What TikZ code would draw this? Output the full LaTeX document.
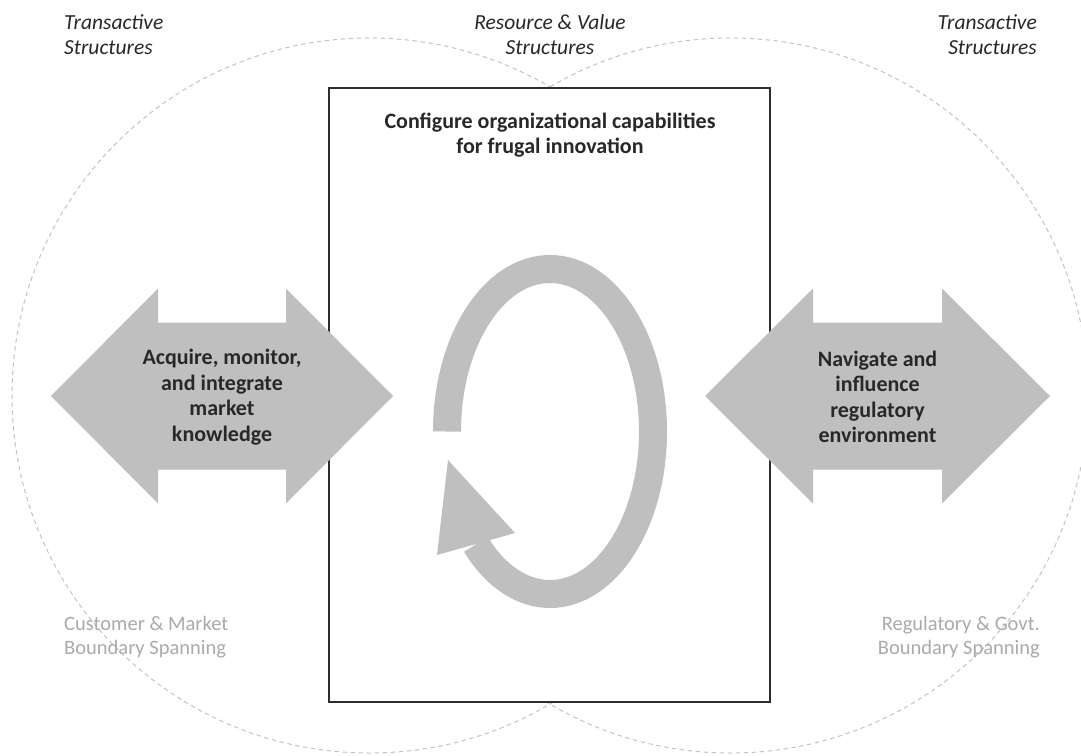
\documentclass[tikz,border=0pt]{standalone}
\usepackage{fontspec}
\setmainfont{Carlito}
\definecolor{arrowgray}{RGB}{191,191,191}
\definecolor{dashgray}{RGB}{196,196,196}
\definecolor{labelgray}{RGB}{170,170,170}
\definecolor{textdark}{RGB}{40,40,40}
\definecolor{boxline}{RGB}{45,45,45}
\tikzset{
  zone/.style={draw=dashgray, line width=1pt, dash pattern=on 4.5pt off 3.5pt},
  framebox/.style={draw=boxline, line width=1.4pt, fill=white, minimum width=441, minimum height=614, inner sep=0pt},
  bigarrow/.style={fill=arrowgray},
  toplabel/.style={font=\fontsize{21.5}{25.5}\selectfont\itshape, text=textdark, inner sep=0pt},
  botlabel/.style={font=\fontsize{20.5}{24}\selectfont, text=labelgray, inner sep=0pt},
  boldtext/.style={font=\fontsize{22}{25.5}\selectfont\bfseries, text=textdark, align=center, inner sep=0pt},
  cycleline/.style={draw=arrowgray, line width=28pt},
}
\begin{document}
\begin{tikzpicture}[x=1pt,y=-1pt]
\useasboundingbox (0,0) rectangle (1081,755);
\fill[white] (0,0) rectangle (1081,755);
\begin{scope}
\clip (0,0) rectangle (1081,755);
\draw[zone] (369.5,395.5) circle[radius=357.5];
\draw[zone] (730.5,395.5) circle[radius=357.5];
\end{scope}
% central box
\node[framebox] (box) at (549.5,395) {};
\node[boldtext] (title) at (550,135) {Configure organizational capabilities\\for frugal innovation};
% cycle arrow
\draw[cycleline] (447,431.5) arc[start angle=180, end angle=496, x radius=103, y radius=162.5];
\fill[arrowgray] (448,460) -- (437,555) -- (515,533) -- cycle;
% left double arrow
\fill[bigarrow] (51,396) -- (158,288.5) -- (158,322.5) -- (286,322.5) -- (286,288.5) -- (393,396)
  -- (286,503.5) -- (286,469.5) -- (158,469.5) -- (158,503.5) -- cycle;
\node[boldtext] (market) at (222,397) {Acquire, monitor,\\and integrate\\market\\knowledge};
% right double arrow
\fill[bigarrow] (705,396) -- (813,288.5) -- (813,322.5) -- (942,322.5) -- (942,288.5) -- (1050,396)
  -- (942,503.5) -- (942,469.5) -- (813,469.5) -- (813,503.5) -- cycle;
\node[boldtext] (regul) at (877.5,397) {Navigate and\\influence\\regulatory\\environment};
% labels
\node[toplabel, align=left, anchor=west] (tl) at (64,34.5) {Transactive\\Structures};
\node[toplabel, align=center] (tc) at (550,34.5) {Resource \& Value\\Structures};
\node[toplabel, align=right, anchor=east] (tr) at (1037,34.5) {Transactive\\Structures};
\node[botlabel, align=left, anchor=west] (bl) at (64,637.5) {Customer \& Market\\Boundary Spanning};
\node[botlabel, align=right, anchor=east] (br) at (1040,637.5) {Regulatory \& Govt.\\Boundary Spanning};
\end{tikzpicture}
\end{document}
